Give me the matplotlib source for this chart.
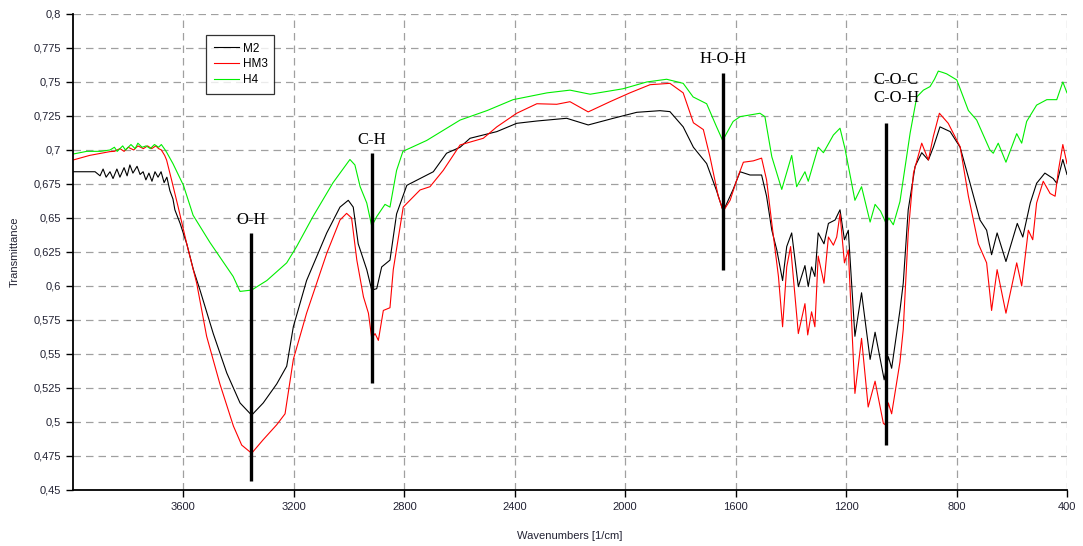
import matplotlib
matplotlib.use("Agg")
import matplotlib.pyplot as plt
from matplotlib.ticker import FixedLocator, FuncFormatter

plt.rcParams['font.family'] = ['Liberation Sans', 'DejaVu Sans']

# ---- data (wavenumber in 1/cm, transmittance) ----
m2_wn = [4000, 3920, 3902, 3891, 3880, 3866, 3855, 3841, 3830, 3815, 3804, 3794,
         3783, 3768, 3757, 3746, 3736, 3725, 3714, 3703, 3692, 3681, 3670, 3660,
         3649, 3638, 3631, 3612,
         3588, 3564, 3540, 3492, 3443, 3395, 3353, 3311, 3262, 3226, 3202, 3154,
         3081, 3033, 3003, 2985, 2967, 2936, 2918, 2900, 2882, 2852, 2828, 2791,
         2743, 2695, 2647, 2598, 2562, 2465, 2393, 2320, 2212, 2134, 2043, 1958,
         1874, 1838, 1790, 1753, 1729, 1705, 1669, 1645, 1609, 1584, 1548, 1506,
         1488, 1469, 1451, 1430, 1415, 1397, 1373, 1349, 1337, 1325, 1313, 1301,
         1280, 1264, 1240, 1222, 1206, 1192, 1168, 1144, 1113, 1095, 1062, 1047,
         1035, 1005, 993, 975, 950, 926, 902, 884, 860, 823, 787, 751, 715, 691,
         673, 653, 621, 580, 560, 533, 510, 480, 450, 437, 415, 400]
m2_t = [0.684, 0.684, 0.681, 0.686, 0.680, 0.684, 0.679, 0.686, 0.680, 0.687, 0.681, 0.689,
        0.683, 0.688, 0.682, 0.684, 0.678, 0.683, 0.677, 0.684, 0.680, 0.684, 0.676, 0.680,
        0.670, 0.664, 0.656, 0.646,
        0.631, 0.612, 0.597, 0.565, 0.536, 0.514, 0.505, 0.514, 0.528, 0.541, 0.570, 0.604,
        0.639, 0.658, 0.663, 0.658, 0.631, 0.612, 0.597, 0.598, 0.614, 0.619, 0.653, 0.674,
        0.679, 0.684, 0.6976, 0.702, 0.7086, 0.7135, 0.7196, 0.7213, 0.7233, 0.7184, 0.7233, 0.7277,
        0.7289, 0.7282, 0.717, 0.702, 0.696, 0.690, 0.670, 0.655, 0.671, 0.684, 0.6816, 0.6816,
        0.666, 0.641, 0.6265, 0.604, 0.629, 0.639, 0.5995, 0.615, 0.5995, 0.614, 0.607, 0.639,
        0.631, 0.646, 0.6485, 0.656, 0.634, 0.641, 0.563, 0.595, 0.546, 0.566, 0.531, 0.548,
        0.5395, 0.582, 0.602, 0.656, 0.688, 0.698, 0.6926, 0.702, 0.717, 0.7135, 0.702, 0.6755, 0.6485, 0.641,
        0.623, 0.639, 0.618, 0.646, 0.636, 0.661, 0.6755, 0.683, 0.679, 0.6755, 0.693, 0.682]

hm3_wn = [4000, 3940, 3866, 3850, 3830, 3815, 3800, 3780, 3765, 3745, 3730, 3715,
          3700, 3690, 3680, 3668, 3661, 3643, 3619, 3588, 3552,
          3516, 3468, 3419, 3389, 3353, 3311, 3262, 3232, 3202, 3154, 3081, 3033,
          3009, 2991, 2972, 2948, 2930, 2918, 2906, 2894, 2876, 2852, 2840, 2804,
          2743, 2707, 2659, 2598, 2514, 2465, 2393, 2320, 2248, 2200, 2134, 2055,
          1983, 1910, 1838, 1790, 1753, 1717, 1693, 1663, 1645, 1620, 1596, 1572,
          1536, 1506, 1488, 1469, 1445, 1430, 1415, 1401, 1373, 1349, 1339, 1325,
          1313, 1301, 1280, 1264, 1246, 1234, 1222, 1206, 1192, 1168, 1144, 1120,
          1095, 1065, 1059, 1047, 1035, 1005, 993, 975, 956, 926, 902, 884, 862,
          830, 787, 757, 721, 691, 673, 653, 621, 582, 564, 540, 524, 510, 486,
          461, 443, 431, 415, 400]
hm3_t = [0.6926, 0.696, 0.6988, 0.699, 0.701, 0.699, 0.702, 0.700, 0.703, 0.701, 0.703, 0.701,
         0.703, 0.701, 0.700, 0.696, 0.6926, 0.678, 0.658, 0.631, 0.602,
         0.563, 0.528, 0.497, 0.483, 0.477, 0.487, 0.498, 0.506, 0.546, 0.580, 0.624, 0.6485,
         0.6534, 0.650, 0.619, 0.592, 0.580, 0.5615, 0.565, 0.560, 0.582, 0.584, 0.612, 0.658,
         0.6706, 0.673, 0.685, 0.7037, 0.7086, 0.717, 0.727, 0.734, 0.7336, 0.7355, 0.728, 0.7355,
         0.742, 0.748, 0.749, 0.742, 0.720, 0.715, 0.695, 0.666, 0.655, 0.663, 0.678, 0.691,
         0.692, 0.694, 0.678, 0.646, 0.607, 0.570, 0.614, 0.629, 0.565, 0.587, 0.564, 0.581,
         0.570, 0.622, 0.602, 0.636, 0.630, 0.636, 0.653, 0.617, 0.6265, 0.521, 0.5615, 0.511,
         0.530, 0.499, 0.498, 0.514, 0.506, 0.544, 0.568, 0.639, 0.683, 0.705, 0.6926, 0.710, 0.727,
         0.7196, 0.7024, 0.666, 0.631, 0.617, 0.582, 0.612, 0.580, 0.617, 0.600, 0.641, 0.634, 0.661, 0.677,
         0.668, 0.666, 0.685, 0.704, 0.690]

h4_wn = [4000, 3950, 3900, 3866, 3850, 3840, 3820, 3810, 3790, 3775, 3765, 3750,
         3735, 3720, 3705, 3690, 3680, 3666, 3660,
         3638, 3600, 3565, 3504, 3420, 3395, 3353, 3298, 3226, 3190, 3131, 3058,
         2997, 2979, 2960, 2936, 2918, 2900, 2870, 2852, 2828, 2805, 2719, 2598,
         2500, 2406, 2283, 2200, 2127, 2008, 1922, 1850, 1790, 1754, 1705, 1669,
         1647, 1609, 1584, 1512, 1494, 1469, 1433, 1397, 1379, 1349, 1337, 1301,
         1282, 1246, 1222, 1204, 1168, 1144, 1113, 1095, 1075, 1055, 1045, 1029,
         1005, 968, 944, 920, 896, 880, 866, 850, 836, 799, 757, 727, 679, 667,
         649, 621, 582, 564, 546, 510, 473, 437, 415, 400]
h4_t = [0.697, 0.699, 0.699, 0.700, 0.702, 0.699, 0.703, 0.700, 0.704, 0.701, 0.705, 0.702,
        0.703, 0.701, 0.704, 0.702, 0.704, 0.700, 0.698,
        0.690, 0.674, 0.652, 0.632, 0.607, 0.596, 0.597, 0.604, 0.617, 0.629, 0.651, 0.676,
        0.693, 0.689, 0.673, 0.661, 0.644, 0.651, 0.660, 0.658, 0.685, 0.699, 0.707, 0.722,
        0.729, 0.737, 0.742, 0.744, 0.741, 0.745, 0.750, 0.752, 0.749, 0.739, 0.734, 0.717,
        0.707, 0.721, 0.7245, 0.727, 0.7245, 0.695, 0.671, 0.696, 0.673, 0.684, 0.677, 0.702,
        0.698, 0.711, 0.716, 0.701, 0.663, 0.673, 0.647, 0.660, 0.655, 0.646, 0.650, 0.645,
        0.662, 0.7125, 0.739, 0.744, 0.7466, 0.752, 0.758, 0.757, 0.756, 0.7515, 0.729, 0.722, 0.700, 0.6976,
        0.705, 0.691, 0.712, 0.705, 0.721, 0.733, 0.737, 0.737, 0.750, 0.742]

# band markers: label, position, line bottom, line top
band_labels = ['O-H', 'C-H', 'H-O-H', 'C-O-C\nC-O-H']
band_wn = [3355, 2917, 1644, 1055]
band_lo = [0.4566, 0.5284, 0.6118, 0.483]
band_hi = [0.6387, 0.6976, 0.7569, 0.7196]

fig = plt.figure(figsize=(10.83, 5.46), dpi=100)
ax = fig.add_axes([0.0674, 0.1026, 0.9178, 0.8718])

ax.plot(m2_wn, m2_t, color='black', lw=0.8, label='M2')
ax.plot(hm3_wn, hm3_t, color='#ff0000', lw=0.8, label='HM3')
ax.plot(h4_wn, h4_t, color='#00ee00', lw=0.8, label='H4')

for lab, wn, lo, hi in zip(band_labels, band_wn, band_lo, band_hi):
    ax.plot([wn, wn], [lo, hi], color='black', lw=2.4, solid_capstyle='butt')
    if '\n' in lab:
        ax.text(wn + 45, hi + 0.013, lab, ha='left', va='bottom', fontsize=12,
                family='Liberation Serif', linespacing=1.1)
    else:
        ax.text(wn, hi + 0.004, lab, ha='center', va='bottom', fontsize=12,
                family='Liberation Serif')

ax.set_xlim(4000, 400)
ax.set_ylim(0.45, 0.8)
ax.xaxis.set_major_locator(FixedLocator([3600, 3200, 2800, 2400, 2000, 1600, 1200, 800, 400]))
ax.yaxis.set_major_locator(FixedLocator([0.45 + 0.025 * i for i in range(15)]))
ax.yaxis.set_major_formatter(FuncFormatter(lambda v, p: ('%.3f' % v).rstrip('0').rstrip('.').replace('.', ',')))
ax.tick_params(labelsize=8, labelcolor='#222233', length=5, width=1, direction='out')

ax.grid(True, color='#a0a0a0', linestyle=(0, (6, 4)), lw=0.9)
ax.spines['top'].set_visible(False)
ax.spines['right'].set_visible(False)
ax.spines['left'].set_linewidth(1.3)
ax.spines['bottom'].set_linewidth(1.3)

ax.set_xlabel('Wavenumbers [1/cm]', fontsize=8, color='#222233', labelpad=13.5)
ax.set_ylabel('Transmittance', fontsize=8, color='#222233', labelpad=10)

leg = ax.legend(loc='upper left', bbox_to_anchor=(0.134, 0.836, 0.0684, 0.12), mode='expand',
                borderaxespad=0, fontsize=8.5, frameon=True, fancybox=False, handlelength=2.1,
                borderpad=0.65, labelspacing=0.32, handletextpad=0.4)
leg.get_frame().set_edgecolor('black')
leg.get_frame().set_linewidth(0.9)

plt.savefig('out.png', dpi=100)
